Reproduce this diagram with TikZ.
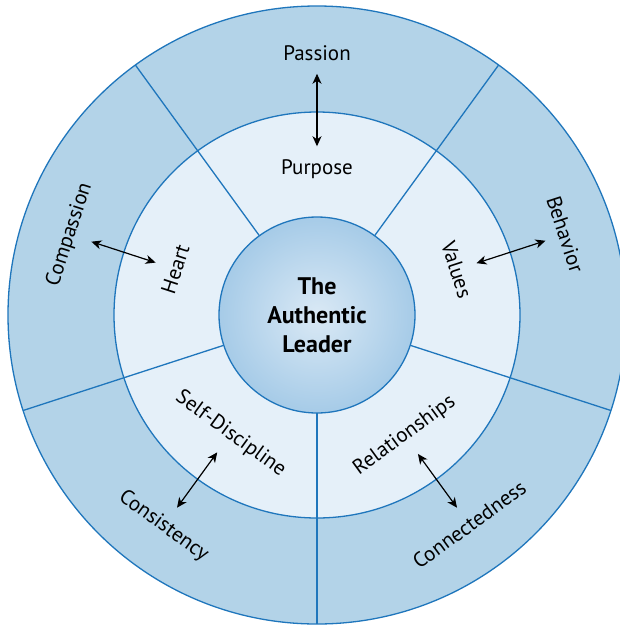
\documentclass[tikz,border=0pt]{standalone}
\usepackage{fontspec}
\setmainfont{PT Sans}
\usetikzlibrary{arrows.meta}
\definecolor{ringout}{HTML}{B3D3E8}
\definecolor{ringmid}{HTML}{E5F0F9}
\definecolor{edgeblue}{HTML}{1F76BC}
\definecolor{coreedge}{HTML}{72ADDA}
\definecolor{corelight}{HTML}{DAE9F5}
\pgfdeclareradialshading{coreshade}{\pgfpoint{0bp}{0bp}}{color(0bp)=(corelight); color(50bp)=(coreedge)}
\begin{document}
\begin{tikzpicture}[x=1pt,y=1pt,
  ringline/.style={draw=edgeblue, line width=1.3pt},
  lbl/.style={font=\fontsize{21}{24}\selectfont, inner sep=0pt, text=black},
  link/.style={{Stealth[length=10pt,width=9pt,inset=3pt]}-{Stealth[length=10pt,width=9pt,inset=3pt]}, line width=1.2pt, shorten <=13pt, shorten >=13pt}]
\begin{scope}[shift={(317,-315)}]
\useasboundingbox (-317,315) rectangle (303,-310);
\fill[white] (-317,315) rectangle (303,-310);
\begin{scope}
\clip (-317,315) rectangle (303,-310);
\draw[ringline, fill=ringout] (0,0) circle[radius=309];
\draw[ringline, fill=ringmid] (0,0) circle[radius=203];
\foreach \a in {54,126,198,270,342} \draw[ringline] (\a:98) -- (\a:309);
\end{scope}
\node[circle, draw=edgeblue, line width=1.3pt, minimum size=196pt, inner sep=0pt,
  shading=coreshade, align=center, font=\bfseries\fontsize{24}{29}\selectfont] (core) at (0,0) {The\\Authentic\\Leader};
\node[lbl] (passion) at (90:262) {Passion};
\node[lbl] (purpose) at (90:146) {Purpose};
\node[lbl, rotate=72] (compassion) at (162:260) {Compassion};
\node[lbl, rotate=72] (heart) at (162:149) {Heart};
\node[lbl, rotate=-72] (behavior) at (18:261) {Behavior};
\node[lbl, rotate=-72] (values) at (18:147) {Values};
\node[lbl, rotate=-36] (consistency) at (234:261) {Consistency};
\node[lbl, rotate=-36] (selfd) at (234:147) {Self-Discipline};
\node[lbl, rotate=36] (connect) at (306:259) {Connectedness};
\node[lbl, rotate=36] (relation) at (306:149) {Relationships};
\draw[link] (passion) -- (purpose);
\draw[link] (compassion) -- (heart);
\draw[link] (behavior) -- (values);
\draw[link] (consistency) -- (selfd);
\draw[link] (connect) -- (relation);
\end{scope}
\end{tikzpicture}
\end{document}
